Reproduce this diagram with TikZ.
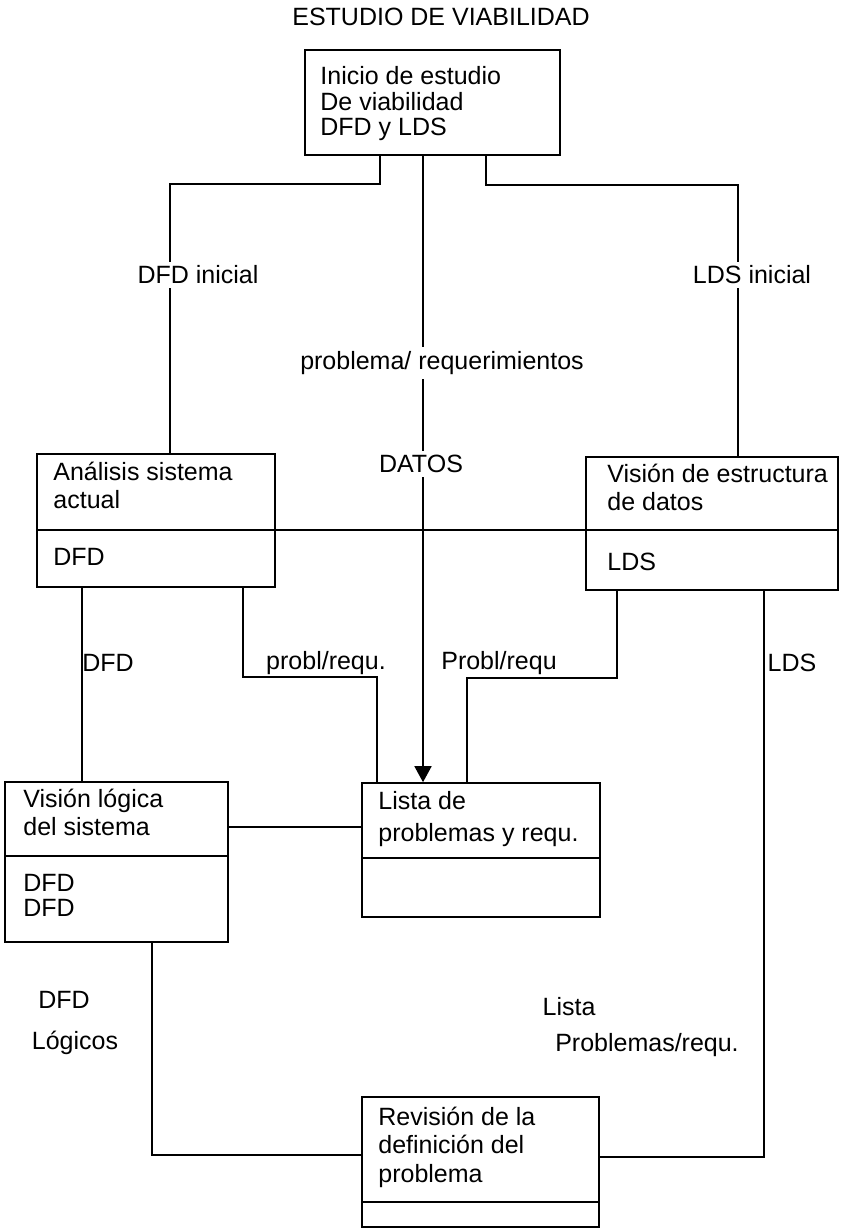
\documentclass[tikz,border=0pt]{standalone}
\usepackage{fontspec}
\setmainfont{Liberation Sans}
\usetikzlibrary{fit,arrows.meta}
\begin{document}
\begin{tikzpicture}[x=0.5pt,y=-0.5pt,
  box/.style={draw, line width=0.8pt, inner sep=0pt},
  conn/.style={draw, line width=0.8pt},
  divider/.style={draw, line width=0.8pt},
  txt/.style={anchor=mid west, inner sep=0pt, font=\fontsize{12.5}{15}\selectfont},
  lbl/.style={inner sep=0pt, font=\fontsize{12.5}{15}\selectfont},
  onl/.style={inner sep=2pt, fill=white, font=\fontsize{12.5}{15}\selectfont},
  arr/.style={-{Triangle[width=8.5pt,length=8pt]}}]
\useasboundingbox (0,0) rectangle (850,1230);

% title
\node[lbl] (title) at (441,17) {ESTUDIO DE VIABILIDAD};

% boxes
\node[box, fit={(305,50) (560,155)}] (top) {};
\node[box, fit={(37,454) (275,587)}] (ana) {};
\node[box, fit={(586,457) (838,590)}] (vde) {};
\node[box, fit={(362,783) (600,917)}] (lista) {};
\node[box, fit={(5,782) (228,942)}] (vlog) {};
\node[box, fit={(362,1097) (599,1227)}] (rev) {};

% dividers
\draw[divider] (37,530) -- (275,530);
\draw[divider] (586,530) -- (838,530);
\draw[divider] (362,858) -- (600,858);
\draw[divider] (5,856) -- (228,856);
\draw[divider] (362,1202) -- (599,1202);

% box texts
\node[txt] (t1a) at (320,79) {Inicio de estudio};
\node[txt] (t1b) at (320,105) {De viabilidad};
\node[txt] (t1c) at (320,130) {DFD y LDS};

\node[txt] (t2a) at (53,475) {Análisis sistema};
\node[txt] (t2b) at (53,503) {actual};
\node[txt] (t2c) at (53,560) {DFD};

\node[txt] (t3a) at (607,477) {Visión de estructura};
\node[txt] (t3b) at (607,505) {de datos};
\node[txt] (t3c) at (607,565) {LDS};

\node[txt] (t4a) at (378,804) {Lista de};
\node[txt] (t4b) at (378,836) {problemas y requ.};

\node[txt] (t5a) at (23,802) {Visión lógica};
\node[txt] (t5b) at (23,830) {del sistema};
\node[txt] (t5c) at (23,886) {DFD};
\node[txt] (t5d) at (23,911) {DFD};

\node[txt] (t6a) at (378,1120) {Revisión de la};
\node[txt] (t6b) at (378,1148) {definición del};
\node[txt] (t6c) at (378,1177) {problema};

% bend coordinates
\coordinate (b1) at (380,184);
\coordinate (b2) at (170,184);
\coordinate (c1) at (486,185);
\coordinate (c2) at (738,185);
\coordinate (cx) at (423,0);
\coordinate (hA) at (0,530);
\coordinate (a1) at (82,0);
\coordinate (p1) at (243,677);
\coordinate (p2) at (377,677);
\coordinate (q1) at (617,678);
\coordinate (q2) at (467,678);
\coordinate (m) at (0,827);
\coordinate (l2) at (152,1155);
\coordinate (r2) at (764,1157);

% connectors
\draw[conn] (top.south -| b1) -- (b1) -- (b2) -- (ana.north -| b2);
\draw[conn] (top.south -| c1) -- (c1) -- (c2) -- (vde.north -| c2);
\draw[conn, arr] (top.south -| cx) -- (lista.north -| cx);
\draw[conn] (ana.east |- hA) -- (vde.west |- hA);
\draw[conn] (ana.south -| a1) -- (vlog.north -| a1);
\draw[conn] (ana.south -| p1) -- (p1) -- (p2) -- (lista.north -| p2);
\draw[conn] (vde.south -| q1) -- (q1) -- (q2) -- (lista.north -| q2);
\draw[conn] (vlog.east |- m) -- (lista.west |- m);
\draw[conn] (vlog.south -| l2) -- (l2) -- (rev.west |- l2);
\draw[conn] (vde.south -| r2) -- (r2) -- (rev.east |- r2);

% connector labels
\node[onl] (L1) at (198,275) {DFD inicial};
\node[onl] (L2) at (752,275) {LDS inicial};
\node[onl] (L3) at (442,363) {problema/ requerimientos};
\node[onl] (L4) at (421,464) {DATOS};
\node[lbl] (L5) at (108,663) {DFD};
\node[lbl] (L6) at (326,663) {probl/requ.};
\node[lbl] (L7) at (499,663) {Probl/requ};
\node[lbl] (L8) at (792,663) {LDS};
\node[lbl] (L9) at (64,1000) {DFD};
\node[lbl] (L10) at (75,1043) {Lógicos};
\node[lbl] (L11) at (569,1007) {Lista};
\node[lbl] (L12) at (647,1045) {Problemas/requ.};
\end{tikzpicture}
\end{document}
